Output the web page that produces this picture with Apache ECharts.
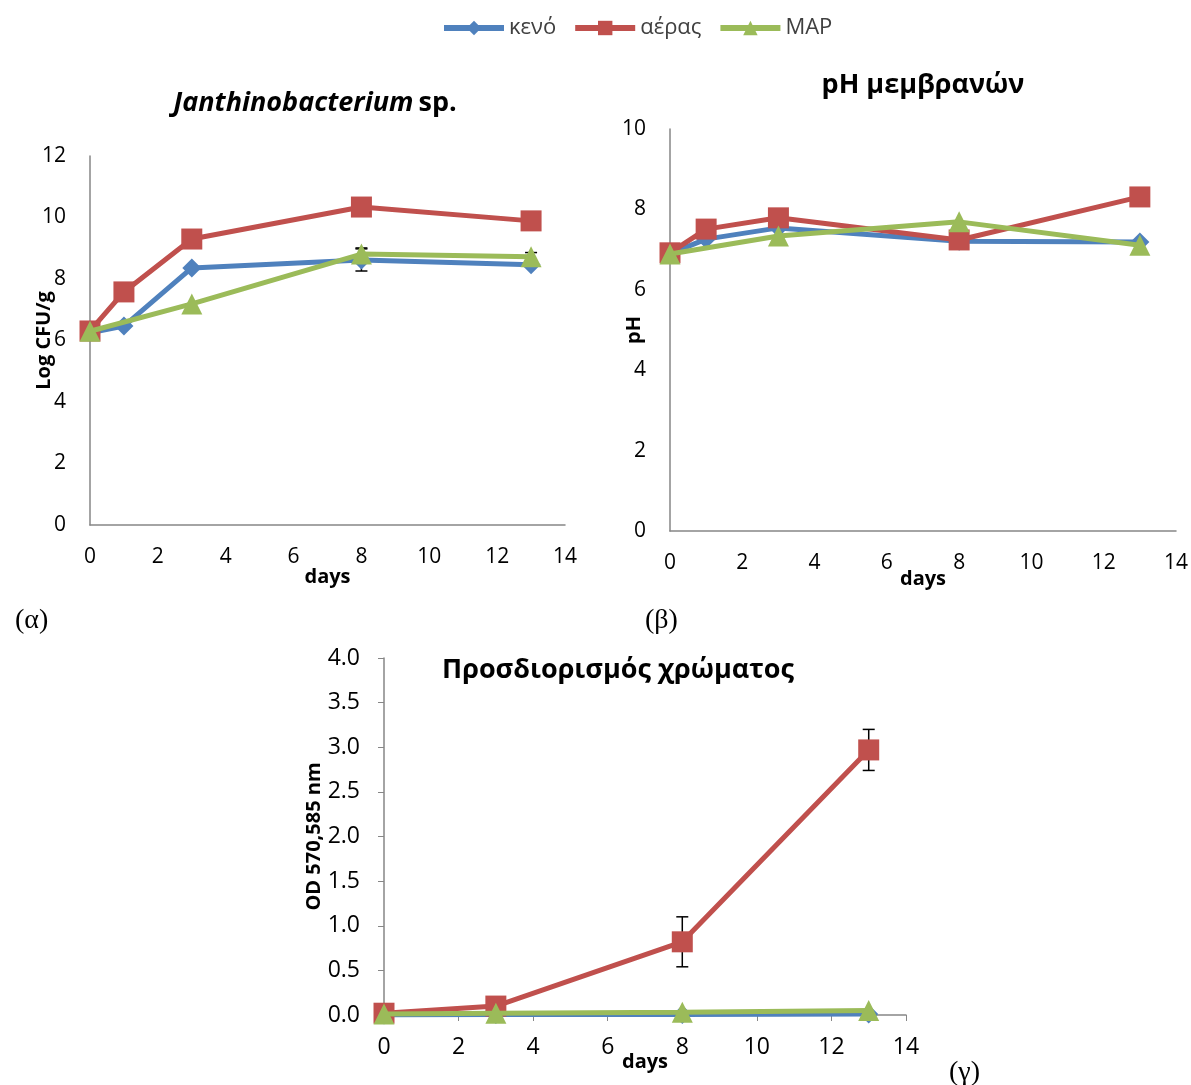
<!DOCTYPE html>
<html>
<head>
<meta charset="utf-8">
<script src="https://cdn.jsdelivr.net/npm/echarts@6/dist/echarts.min.js"></script>
<style>
  html, body { margin: 0; padding: 0; background: #fff; }
  #main { width: 1191px; height: 1085px; }
</style>
</head>
<body>
<div id="main"></div>
<script>
// series names
const names = ["κενό", "αέρας", "MAP"];
const colors = ["#4F81BD", "#C0504D", "#9BBB59"];
const symbols = ["diamond", "rect", "triangle"];
const symbolSizes = [19, 21, 21];

// (α) Janthinobacterium sp. - Log CFU/g
const aDaysKeno = [0, 1, 3, 8, 13];
const aKeno = [6.25, 6.47, 8.36, 8.62, 8.46];
const aDaysAeras = [0, 1, 3, 8, 13];
const aAeras = [6.31, 7.58, 9.30, 10.34, 9.89];
const aDaysMap = [0, 3, 8, 13];
const aMap = [6.3, 7.19, 8.81, 8.72];
const aErrKeno = [0, 0, 0, 0.36, 0];
const aErrMap = [0, 0, 0.2, 0.14];

// (β) pH μεμβρανών
const bDaysKeno = [0, 1, 3, 8, 13];
const bKeno = [6.9, 7.26, 7.54, 7.21, 7.19];
const bDaysAeras = [0, 1, 3, 8, 13];
const bAeras = [6.92, 7.51, 7.79, 7.24, 8.31];
const bDaysMap = [0, 3, 8, 13];
const bMap = [6.89, 7.34, 7.69, 7.11];

// (γ) Προσδιορισμός χρώματος - OD 570,585 nm
const gDays = [0, 3, 8, 13];
const gKeno = [0.0, 0.005, 0.005, 0.01];
const gAeras = [0.02, 0.1, 0.82, 2.97];
const gMap = [0.01, 0.02, 0.03, 0.05];
const gErrAeras = [0, 0.1, 0.28, 0.23];

const font = "'Open Sans', 'Noto Sans', sans-serif";

function pairs(days, vals) {
  return days.map((d, i) => [d, vals[i]]);
}

function lineSeries(idx, grid, days, vals) {
  return {
    name: names[idx],
    type: "line",
    xAxisIndex: grid,
    yAxisIndex: grid,
    data: pairs(days, vals),
    symbol: symbols[idx],
    symbolSize: symbolSizes[idx],
    showSymbol: true,
    lineStyle: { color: colors[idx], width: 5 },
    itemStyle: { color: colors[idx] },
    z: 3 + idx,
    animation: false
  };
}

function errSeries(grid, days, vals, errs) {
  const data = [];
  days.forEach((d, i) => {
    if (errs[i] > 0) data.push([d, vals[i], errs[i]]);
  });
  return {
    type: "custom",
    xAxisIndex: grid,
    yAxisIndex: grid,
    data: data,
    z: 2,
    silent: true,
    animation: false,
    renderItem: function (params, api) {
      const x = api.value(0), y = api.value(1), e = api.value(2);
      const top = api.coord([x, y + e]);
      const bot = api.coord([x, y - e]);
      const w = 6;
      const st = { stroke: "#000", lineWidth: 1.5 };
      return {
        type: "group",
        children: [
          { type: "line", shape: { x1: top[0], y1: top[1], x2: bot[0], y2: bot[1] }, style: st },
          { type: "line", shape: { x1: top[0] - w, y1: top[1], x2: top[0] + w, y2: top[1] }, style: st },
          { type: "line", shape: { x1: bot[0] - w, y1: bot[1], x2: bot[0] + w, y2: bot[1] }, style: st }
        ]
      };
    }
  };
}

function xAxis(grid, ticks, gap, fs, margin) {
  return {
    type: "value",
    gridIndex: grid,
    min: 0, max: 14, interval: 2,
    name: "days",
    nameLocation: "middle",
    nameGap: gap,
    nameMoveOverlap: false,
    nameTextStyle: { fontFamily: font, fontWeight: "bold", fontSize: 20, color: "#000" },
    axisLine: { show: true, lineStyle: { color: "#868686", width: 1.5 } },
    axisTick: { show: ticks, length: 6, lineStyle: { color: "#868686" } },
    axisLabel: { fontFamily: font, fontSize: fs, color: "#000", margin: margin },
    splitLine: { show: false }
  };
}

function yAxis(grid, min, max, interval, name, gap, ticks, dec, fs, margin) {
  return {
    type: "value",
    gridIndex: grid,
    min: min, max: max, interval: interval,
    name: name,
    nameLocation: "middle",
    nameRotate: 90,
    nameGap: gap,
    nameMoveOverlap: false,
    nameTextStyle: { fontFamily: font, fontWeight: "bold", fontSize: 20, color: "#000" },
    axisLine: { show: true, lineStyle: { color: "#868686", width: 1.5 } },
    axisTick: { show: ticks, length: 6, lineStyle: { color: "#868686" } },
    axisLabel: {
      fontFamily: font, fontSize: fs, color: "#000", margin: margin,
      formatter: v => dec ? v.toFixed(1) : String(v)
    },
    splitLine: { show: false }
  };
}

const chart = echarts.init(document.getElementById("main"));
chart.setOption({
  backgroundColor: "#fff",
  animation: false,
  legend: {
    data: names,
    top: 12,
    left: 436,
    itemWidth: 60,
    itemHeight: 18,
    itemGap: 16,
    lineStyle: { width: 6 },
    textStyle: { fontFamily: font, fontSize: 22, color: "#404040" }
  },
  title: [
    {
      text: "{i|Janthinobacterium} {b|sp.}",
      left: 310, top: 85, textAlign: "center",
      textStyle: {
        rich: {
          i: { fontFamily: font, fontSize: 27, fontWeight: "bold", fontStyle: "italic", color: "#000" },
          b: { fontFamily: font, fontSize: 27, fontWeight: "bold", color: "#000" }
        }
      }
    },
    {
      text: "pH μεμβρανών",
      left: 918, top: 67, textAlign: "center",
      textStyle: { fontFamily: font, fontSize: 27, fontWeight: "bold", color: "#000" }
    },
    {
      text: "Προσδιορισμός χρώματος",
      left: 613, top: 652, textAlign: "center",
      textStyle: { fontFamily: font, fontSize: 27, fontWeight: "bold", color: "#000" }
    },
    { text: "(α)", left: 10, top: 602, textStyle: { fontFamily: "'Liberation Serif', serif", fontSize: 28, fontWeight: "normal", color: "#000" } },
    { text: "(β)", left: 640, top: 602, textStyle: { fontFamily: "'Liberation Serif', serif", fontSize: 28, fontWeight: "normal", color: "#000" } },
    { text: "(γ)", left: 944, top: 1054, textStyle: { fontFamily: "'Liberation Serif', serif", fontSize: 28, fontWeight: "normal", color: "#000" } }
  ],
  grid: [
    { left: 90, top: 156, width: 475, height: 369 },
    { left: 670, top: 129, width: 506, height: 402 },
    { left: 384, top: 658, width: 522, height: 357 }
  ],
  xAxis: [
    xAxis(0, false, 42, 21, 22),
    xAxis(1, false, 38, 21, 22),
    xAxis(2, true, 37, 23, 21)
  ],
  yAxis: [
    yAxis(0, 0, 12, 2, "Log CFU/g", 36, false, false, 21, 24),
    yAxis(1, 0, 10, 2, "pH", 26, false, false, 21, 24),
    yAxis(2, 0, 4, 0.5, "OD 570,585 nm", 60, true, true, 23, 24)
  ],
  series: [
    errSeries(0, aDaysKeno, aKeno, aErrKeno),
    errSeries(0, aDaysMap, aMap, aErrMap),
    lineSeries(0, 0, aDaysKeno, aKeno),
    lineSeries(1, 0, aDaysAeras, aAeras),
    lineSeries(2, 0, aDaysMap, aMap),
    lineSeries(0, 1, bDaysKeno, bKeno),
    lineSeries(1, 1, bDaysAeras, bAeras),
    lineSeries(2, 1, bDaysMap, bMap),
    errSeries(2, gDays, gAeras, gErrAeras),
    lineSeries(0, 2, gDays, gKeno),
    lineSeries(1, 2, gDays, gAeras),
    lineSeries(2, 2, gDays, gMap)
  ]
});
</script>
</body>
</html>
